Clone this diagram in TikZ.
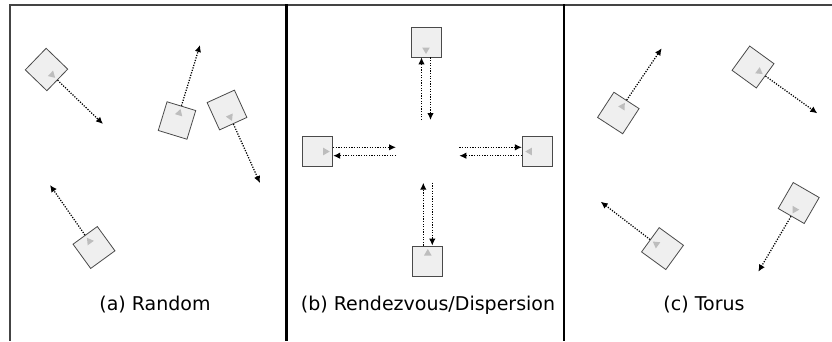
\documentclass[tikz,border=0pt]{standalone}
\usepackage{fontspec}
\setmainfont{DejaVu Sans}
\usetikzlibrary{arrows.meta,calc}
\definecolor{framegray}{HTML}{444444}
\definecolor{boxfill}{HTML}{EFEFEF}
\definecolor{boxline}{HTML}{4A4A4A}
\definecolor{trigray}{HTML}{BDBDBD}
\tikzset{
  robot/.style={draw=boxline, fill=boxfill, line width=0.8pt, minimum size=30pt, inner sep=0pt, shape=rectangle},
  mv/.style={black, line width=1.25pt, dash pattern=on 1.2pt off 1.4pt, -{Latex[length=7pt,width=6.5pt]}},
  frameline/.style={draw=framegray, line width=2.2pt},
  divline/.style={draw=black, line width=2.5pt},
  caption/.style={font=\fontsize{19}{23}\selectfont, inner sep=0pt},
  marker/.style={fill=trigray},
}
\newcommand\robotat[4]{%
  \node[robot, rotate=#4-90] (#1) at (#2,#3) {};
  \begin{scope}[shift={(#2,#3)}, rotate=#4]
    \fill[marker] (12,0) -- (5.5,3.8) -- (5.5,-3.8) -- cycle;
  \end{scope}%
}
\begin{document}
\begin{tikzpicture}[x=1pt,y=-1pt]
\useasboundingbox (0,0) rectangle (832,341);
% frame
\coordinate (ftl) at (9,5);
\coordinate (ftr) at (832,5);
\coordinate (fbl) at (10,341);
\coordinate (d1t) at (286.3,4);
\coordinate (d1b) at (286.3,341);
\coordinate (d2t) at (564,4);
\coordinate (d2b) at (564,341);
\draw[frameline] (ftl) -- (ftr);
\draw[frameline] (10,4) -- (fbl);
\draw[divline] (d1t) -- (d1b);
\draw[divline] (d2t) -- (d2b);

% panel a
\robotat{a1}{46.5}{69.5}{-44}
\robotat{a2}{177}{120.5}{73}
\robotat{a3}{227}{110}{-65.5}
\robotat{a4}{94}{247.5}{126}
\coordinate (a1t) at (103,124);
\coordinate (a2t) at (200,45);
\coordinate (a3t) at (260,183);
\coordinate (a4t) at (50,185);
\draw[mv] (a1.north) -- (a1t);
\draw[mv] (a2.north) -- (a2t);
\draw[mv] (a3.north) -- (a3t);
\draw[mv] (a4.north) -- (a4t);
\node[caption] (capa) at (155,305) {(a) Random};

% panel b
\robotat{b1}{426}{42}{-90}
\robotat{b2}{317.7}{151.5}{0}
\robotat{b3}{537.3}{151.5}{180}
\robotat{b4}{427.8}{261}{90}
\coordinate (b1u) at (421.5,120);
\coordinate (b1d) at (430.5,120);
\coordinate (b2u) at (396,147.3);
\coordinate (b2d) at (396,155.7);
\coordinate (b3u) at (459.3,147.3);
\coordinate (b3d) at (459.3,155.7);
\coordinate (b4u) at (423.3,182.7);
\coordinate (b4d) at (432.3,182.7);
\draw[mv] (b1u) -- ($(b1.north)+(-4.5,0)$);
\draw[mv] ($(b1.north)+(4.5,0)$) -- (b1d);
\draw[mv] ($(b2.north)+(0,-4.2)$) -- (b2u);
\draw[mv] (b2d) -- ($(b2.north)+(0,4.2)$);
\draw[mv] (b3u) -- ($(b3.north)+(0,-4.2)$);
\draw[mv] ($(b3.north)+(0,4.2)$) -- (b3d);
\draw[mv] ($(b4.north)+(-4.5,0)$) -- (b4u);
\draw[mv] (b4d) -- ($(b4.north)+(4.5,0)$);
\node[caption] (capb) at (428,305) {(b) Rendezvous/Dispersion};

% panel c
\robotat{c1}{618.3}{113}{57}
\robotat{c2}{753}{67}{-36}
\robotat{c3}{662.5}{248.6}{144}
\robotat{c4}{798.7}{203}{-120}
\coordinate (c1t) at (661.7,48.3);
\coordinate (c2t) at (817.3,113.3);
\coordinate (c3t) at (600.7,201.7);
\coordinate (c4t) at (758.3,271.7);
\draw[mv] (c1.north) -- (c1t);
\draw[mv] (c2.north) -- (c2t);
\draw[mv] (c3.north) -- (c3t);
\draw[mv] (c4.north) -- (c4t);
\node[caption] (capc) at (704,305) {(c) Torus};
\end{tikzpicture}
\end{document}
